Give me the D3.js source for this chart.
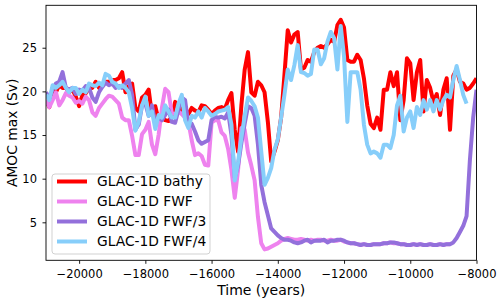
<!DOCTYPE html>
<html><head><meta charset="utf-8">
<script src="https://cdn.jsdelivr.net/npm/d3@7"></script>
<style>body{margin:0;background:#fff;} svg{display:block;font-family:"DejaVu Sans",sans-serif;}</style>
</head><body><svg id="c" width="500" height="304"></svg>
<script>
// sample times (years), every 100 years from -21000 to -8000
const years = d3.range(-21000, -7999, 100);

const bathy = [19.0,18.2,20.4,19.9,20.7,20.4,20.4,19.9,20.2,19.4,
18.3,19.6,19.8,20.4,20.4,21.1,20.4,20.7,21.1,21.1,
21.3,21.3,21.5,22.2,19.9,20.6,20.9,18.1,17.7,19.3,
19.6,20.2,17.3,18.3,16.7,17.0,16.7,16.6,17.0,18.8,
18.3,17.9,17.6,17.4,18.1,17.8,17.6,18.4,18.3,17.9,
17.4,17.8,18.1,18.2,18.0,19.0,19.8,15.6,13.1,18.4,
22.5,24.5,19.9,19.5,21.1,20.7,19.9,16.5,12.0,13.1,
14.4,17.0,21.9,27.0,25.6,26.5,26.8,22.5,22.7,23.6,
23.4,24.5,25.0,25.2,25.0,25.4,25.9,25.7,27.6,28.2,
27.3,23.6,23.4,23.4,24.2,23.6,21.5,18.4,16.3,15.8,
17.0,15.6,20.2,20.2,22.2,20.6,22.2,16.7,19.0,23.8,
23.2,19.0,22.2,23.6,17.7,21.3,20.4,18.8,19.7,17.3,
20.2,21.5,15.6,21.8,22.5,21.1,20.9,20.2,20.4,20.9,
21.5];

const fwf = [19.0,18.2,19.0,19.9,18.4,19.0,19.8,19.5,19.3,18.7,
18.9,18.6,19.4,19.0,17.6,17.2,18.1,18.6,19.1,19.5,
19.4,19.0,18.6,17.0,16.7,16.7,14.9,12.7,12.7,15.1,
15.6,16.5,13.9,12.8,15.0,18.1,20.3,19.9,17.5,17.4,
17.7,17.4,17.0,16.5,14.4,12.7,12.9,12.6,11.6,11.5,
16.4,16.7,16.7,15.3,14.9,13.4,11.0,7.8,11.0,15.8,
15.6,13.0,11.5,9.8,5.6,2.6,1.9,2.0,2.2,2.4,
2.6,2.9,3.1,3.2,3.1,3.0,3.0,3.1,3.0,2.9,
3.0,2.9,3.0,3.0,2.9,2.9,3.0,2.9,2.9,3.0,
2.8,2.7,2.6,2.6,2.5,2.4,2.5,2.4,2.4,2.5,
2.5,2.5,2.6,2.6,2.7,2.6,2.6,2.5,2.5,2.4,
2.4,2.5,2.4,2.5,2.4,2.4,2.5,2.4,2.4,2.5,
2.4,2.5,2.5,null,null,null,null,null,null,null,
null];

const fwf3 = [19.9,19.2,20.2,20.9,21.1,22.2,20.4,20.2,20.4,19.7,
20.2,20.1,20.6,20.4,19.3,18.8,19.9,20.5,21.0,20.7,
20.9,20.4,20.6,20.4,20.9,21.3,19.6,15.6,16.2,18.4,
18.6,17.2,18.4,16.3,17.0,16.7,17.3,17.9,16.5,16.4,
17.9,19.3,19.0,16.2,16.3,15.4,14.4,14.0,14.2,14.4,
16.7,17.1,17.0,17.1,16.9,17.6,15.0,10.1,11.5,14.1,
16.3,18.3,18.1,17.2,13.9,9.3,7.3,5.8,4.3,3.9,
3.5,3.2,3.0,3.0,2.9,2.7,2.6,2.7,2.9,3.0,
2.7,2.9,2.9,2.9,3.0,2.7,2.9,2.9,3.0,3.0,
2.9,2.7,2.6,2.6,2.5,2.4,2.5,2.4,2.4,2.5,
2.5,2.5,2.6,2.6,2.7,2.7,2.6,2.5,2.5,2.4,
2.4,2.5,2.4,2.5,2.4,2.4,2.5,2.4,2.4,2.5,
2.4,2.5,2.5,2.7,3.2,3.9,4.6,5.7,12.1,17.0,
20.2];

const fwf4 = [19.6,19.0,20.7,20.4,20.7,21.1,20.4,19.9,20.4,20.4,
19.7,20.2,19.9,20.9,20.7,20.6,21.0,20.7,22.0,21.8,
21.1,20.9,20.4,20.7,20.4,19.9,18.1,15.5,16.5,18.4,
19.4,17.2,17.7,15.7,17.3,17.0,18.4,17.7,17.0,17.0,
18.6,19.6,16.7,15.8,17.2,17.0,17.7,17.0,18.1,17.7,
17.2,17.4,17.7,17.8,17.9,18.2,16.2,9.8,11.9,14.7,
17.2,19.3,18.9,18.3,17.0,13.1,9.3,10.1,11.2,13.3,
14.5,17.0,19.6,22.5,21.3,23.0,25.3,22.2,22.1,21.8,
22.0,24.8,24.8,23.1,23.8,25.7,26.8,26.1,22.5,27.5,
24.0,16.5,22.2,22.2,22.2,20.2,16.2,13.9,12.9,13.1,
12.9,12.4,13.9,13.9,13.5,15.0,18.4,19.5,15.4,17.0,
17.7,15.8,18.2,17.3,19.0,17.9,19.0,17.7,19.0,17.9,
19.0,19.6,19.3,21.3,22.9,21.3,19.6,18.6,null,null,
null];

const seriesNames = ["GLAC-1D bathy", "GLAC-1D FWF", "GLAC-1D FWF/3", "GLAC-1D FWF/4"];
const seriesColors = ["#ff0000", "#ee82ee", "#9370db", "#87cefa"];
const seriesValues = [bathy, fwf, fwf3, fwf4];
const xTicks = [-20000, -18000, -16000, -14000, -12000, -10000, -8000];
const yTicks = [5, 10, 15, 20, 25];

const L = 46, R = 476.5, T = 5.3, B = 260.3;
const x = d3.scaleLinear().domain([-21000, -8000]).range([L, R]);
const y = d3.scaleLinear().domain([0.65, 29.86]).range([B, T]);

const svg = d3.select("#c");
svg.append("defs").append("clipPath").attr("id", "clip")
  .append("rect").attr("x", L).attr("y", T).attr("width", R - L).attr("height", B - T);

const line = d3.line()
  .defined(d => d[1] != null)
  .x(d => x(d[0])).y(d => y(d[1]));

const gLines = svg.append("g").attr("clip-path", "url(#clip)");
seriesValues.forEach((vals, i) => {
  const pts = years.map((yr, j) => [yr, vals[j] === undefined ? null : vals[j]]);
  gLines.append("path").datum(pts)
    .attr("d", line)
    .attr("fill", "none")
    .attr("stroke", seriesColors[i])
    .attr("stroke-width", 4)
    .attr("stroke-linejoin", "round")
    .attr("stroke-linecap", "butt");
});

const fmt = d => d < 0 ? "\u2212" + Math.abs(d) : String(d);

const gx = svg.append("g").attr("transform", `translate(0,${B})`)
  .call(d3.axisBottom(x).tickValues(xTicks).tickFormat(fmt).tickSize(3.5).tickPadding(6));
const gy = svg.append("g").attr("transform", `translate(${L},0)`)
  .call(d3.axisLeft(y).tickValues(yTicks).tickFormat(fmt).tickSize(3.5).tickPadding(5.5));
[gx, gy].forEach(g => {
  g.select(".domain").remove();
  g.attr("font-family", "DejaVu Sans, sans-serif").attr("font-size", 11.5);
  g.selectAll("line").attr("stroke", "#000").attr("stroke-width", 0.9);
  g.selectAll("text").attr("fill", "#000");
});

svg.append("rect").attr("x", L).attr("y", T).attr("width", R - L).attr("height", B - T)
  .attr("fill", "none").attr("stroke", "#000").attr("stroke-width", 0.9);

svg.append("text").attr("x", (L + R) / 2).attr("y", 295)
  .attr("text-anchor", "middle").attr("font-size", 14).attr("fill", "#000")
  .text("Time (years)");
svg.append("text").attr("transform", `translate(17,${(T + B) / 2}) rotate(-90)`)
  .attr("text-anchor", "middle").attr("font-size", 13.8).attr("fill", "#000")
  .text("AMOC max (Sv)");

// legend
const lg = svg.append("g");
lg.append("rect").attr("x", 52).attr("y", 174).attr("width", 158).attr("height", 80)
  .attr("rx", 3).attr("fill", "#fff").attr("fill-opacity", 0.8)
  .attr("stroke", "#ccc").attr("stroke-width", 0.9);
seriesNames.forEach((name, i) => {
  const yy = 181.5 + i * 20;
  lg.append("line").attr("x1", 57).attr("x2", 87).attr("y1", yy).attr("y2", yy)
    .attr("stroke", seriesColors[i]).attr("stroke-width", 4);
  lg.append("text").attr("x", 97).attr("y", yy).attr("dy", "0.36em")
    .attr("font-size", 13.8).attr("fill", "#000").text(name);
});
</script></body></html>
